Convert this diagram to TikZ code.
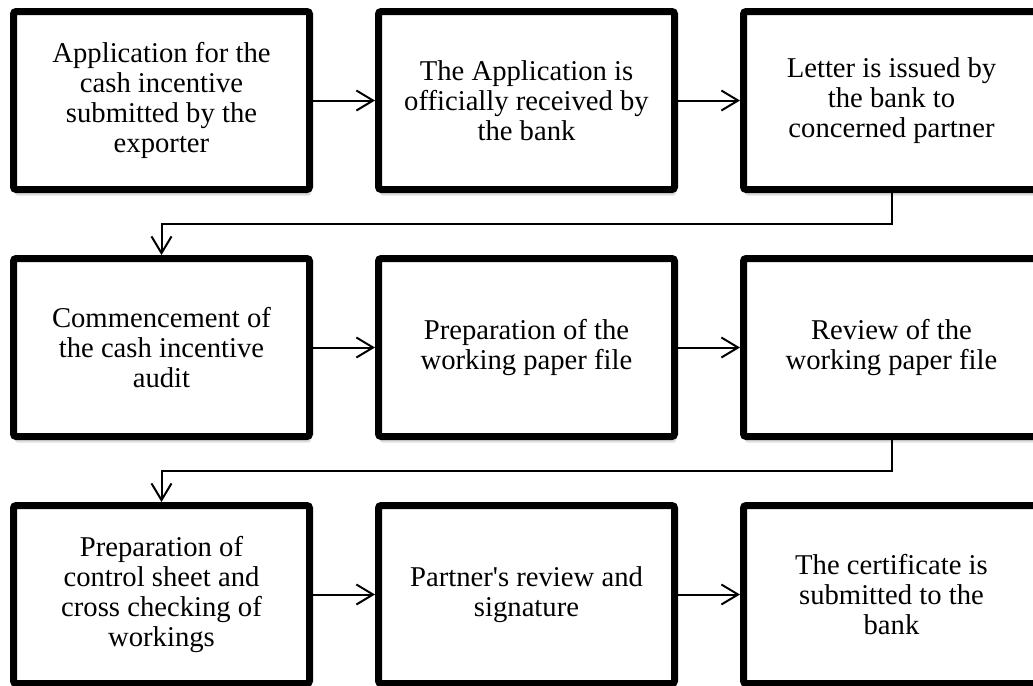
\documentclass[tikz,border=0pt]{standalone}
\usepackage{fontspec}
\setmainfont{Liberation Serif}
\usetikzlibrary{positioning,arrows.meta,shadows}

\begin{document}
\begin{tikzpicture}[
  x=0.75pt, y=0.75pt,
  node distance=46.5pt,
  stepbox/.style={draw, line width=5.25pt, rounded corners=2pt, fill=white,
    minimum width=222pt, minimum height=133.5pt, align=center,
    font=\fontsize{21.5}{22.5}\selectfont,
    drop shadow={shadow xshift=1.2pt, shadow yshift=-4.6pt, opacity=0.25}},
  arr/.style={-{Straight Barb[length=12.5pt,width=15pt]}, line width=1.5pt}
]
  \useasboundingbox (0,0) rectangle (1033,-686);

  \node[stepbox] (apply) at (161.5,-100.5)
    {Application for the\\cash incentive\\submitted by the\\exporter};
  \node[stepbox, right=of apply] (receive)
    {The Application is\\officially received by\\the bank};
  \node[stepbox, right=of receive] (letter)
    {Letter is issued by\\the bank to\\concerned partner};

  \node[stepbox, below=of apply] (audit)
    {Commencement of\\the cash incentive\\audit};
  \node[stepbox, right=of audit] (prepare)
    {Preparation of the\\working paper file};
  \node[stepbox, right=of prepare] (review)
    {Review of the\\working paper file};

  \node[stepbox, below=of audit] (control)
    {Preparation of\\control sheet and\\cross checking of\\workings};
  \node[stepbox, right=of control] (partner)
    {Partner\textquotesingle s review and\\signature};
  \node[stepbox, right=of partner] (certif)
    {The certificate is\\submitted to the\\bank};

  \draw[arr] (apply) -- (receive);
  \draw[arr] (receive) -- (letter);
  \draw[arr] (letter.south) -- ++(0,-31) -| (audit.north);

  \draw[arr] (audit) -- (prepare);
  \draw[arr] (prepare) -- (review);
  \draw[arr] (review.south) -- ++(0,-31) -| (control.north);

  \draw[arr] (control) -- (partner);
  \draw[arr] (partner) -- (certif);
\end{tikzpicture}
\end{document}
